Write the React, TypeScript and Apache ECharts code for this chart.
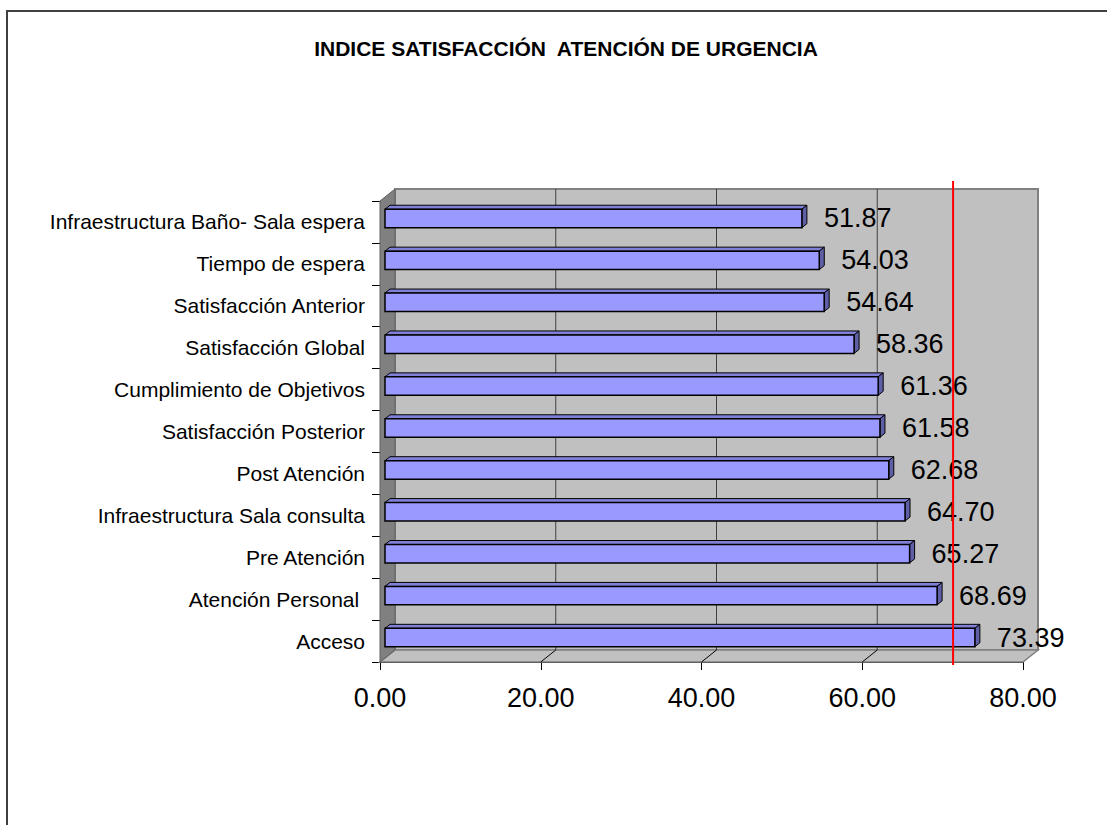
import React, { useEffect, useRef } from "react";
import * as echarts from "echarts";

const chartTitle = "INDICE SATISFACCIÓN  ATENCIÓN DE URGENCIA";
const categories = [
  "Acceso",
  "Atención Personal ",
  "Pre Atención",
  "Infraestructura Sala consulta",
  "Post Atención",
  "Satisfacción Posterior",
  "Cumplimiento de Objetivos",
  "Satisfacción Global",
  "Satisfacción Anterior",
  "Tiempo de espera",
  "Infraestructura Baño- Sala espera",
];
const values = [73.39, 68.69, 65.27, 64.7, 62.68, 61.58, 61.36, 58.36, 54.64, 54.03, 51.87];
const axisMin = 0;
const axisMax = 80;
const axisInterval = 20;
const referenceValue = 71.3;

const FONT = "'Liberation Sans', Arial, sans-serif";

export default function App() {
  const ref = useRef<HTMLDivElement>(null);
  useEffect(() => {
    const chart = echarts.init(ref.current!, null, { renderer: "svg" });
    const DX = 15;
    const DY = -12;
    const n = categories.length;
    const innerTicks: number[] = [];
    for (let t = axisMin + axisInterval; t < axisMax; t += axisInterval) innerTicks.push(t);

    const frame = (api: any) => {
      const x0 = api.coord([axisMin, 0])[0];
      const x1 = api.coord([axisMax, 0])[0];
      const band = api.size([0, 1])[1];
      const yB = api.coord([axisMin, 0])[1] + band / 2;
      const yT = api.coord([axisMin, n - 1])[1] - band / 2;
      return { x0, x1, yB, yT, band };
    };

    const option: any = {
      animation: false,
      backgroundColor: "#ffffff",
      title: {
        text: chartTitle,
        left: 561,
        textAlign: "center",
        top: 33,
        textStyle: { fontFamily: FONT, fontSize: 21, fontWeight: "bold", color: "#000" },
      },
      graphic: [
        {
          type: "rect",
          shape: { x: 7, y: 11, width: 1300, height: 1000 },
          style: { fill: "none", stroke: "#404040", lineWidth: 2 },
          silent: true,
        },
      ],
      grid: { left: 380, top: 201, width: 643, height: 461, containLabel: false },
      xAxis: {
        type: "value",
        min: axisMin,
        max: axisMax,
        interval: axisInterval,
        axisLine: { show: true, lineStyle: { color: "#000", width: 1 } },
        axisTick: { show: true, length: 8, lineStyle: { color: "#000" } },
        axisLabel: {
          fontFamily: FONT,
          fontSize: 27,
          color: "#000",
          margin: 22,
          formatter: (v: number) => v.toFixed(2),
        },
        splitLine: { show: false },
      },
      yAxis: {
        type: "category",
        data: categories,
        axisLine: { show: true, lineStyle: { color: "#000", width: 1 } },
        axisTick: { show: true, length: 8, lineStyle: { color: "#000" } },
        axisLabel: { fontFamily: FONT, fontSize: 21, color: "#000", margin: 15 },
        splitLine: { show: false },
      },
      series: [
        {
          type: "custom",
          name: "walls",
          z: 1,
          silent: true,
          data: [[0, 0]],
          renderItem: (_p: any, api: any) => {
            const { x0, x1, yB, yT } = frame(api);
            const children: any[] = [
              {
                type: "rect",
                shape: { x: x0 + DX, y: yT + DY, width: x1 - x0, height: yB - yT },
                style: { fill: "#C0C0C0", stroke: "#808080", lineWidth: 2 },
              },
              {
                type: "polygon",
                shape: { points: [[x0, yB], [x1, yB], [x1 + DX, yB + DY], [x0 + DX, yB + DY]] },
                style: { fill: "#C0C0C0", stroke: "#808080", lineWidth: 1.5 },
              },
              {
                type: "polygon",
                shape: { points: [[x0, yT], [x0 + DX, yT + DY], [x0 + DX, yB + DY], [x0, yB]] },
                style: { fill: "#808080", stroke: "#606060", lineWidth: 1 },
              },
            ];
            innerTicks.forEach((t) => {
              const xt = api.coord([t, 0])[0];
              children.push({
                type: "line",
                shape: { x1: xt + DX, y1: yT + DY, x2: xt + DX, y2: yB + DY },
                style: { stroke: "#404040", lineWidth: 1 },
              });
              children.push({
                type: "line",
                shape: { x1: xt, y1: yB, x2: xt + DX, y2: yB + DY },
                style: { stroke: "#000", lineWidth: 1 },
              });
            });
            return { type: "group", children };
          },
        },
        {
          type: "custom",
          name: "Índice",
          z: 3,
          data: values.map((v, i) => [v, i]),
          encode: { x: 0, y: 1 },
          renderItem: (params: any, api: any) => {
            const v = api.value(0);
            const idx = api.value(1);
            const s = api.coord([axisMin, idx]);
            const e = api.coord([v, idx]);
            const band = api.size([0, 1])[1];
            const h = band * 0.44;
            const bx = DX / 3;
            const by = DY / 3;
            const xa = s[0] + bx;
            const xb = e[0] + bx;
            const yc = s[1] + by + 0.5;
            const yt = yc - h / 2;
            const yb = yc + h / 2;
            return {
              type: "group",
              children: [
                {
                  type: "polygon",
                  shape: { points: [[xa, yt], [xb, yt], [xb + bx, yt + by], [xa + bx, yt + by]] },
                  style: { fill: "#8080D9", stroke: "#000", lineWidth: 1 },
                },
                {
                  type: "polygon",
                  shape: { points: [[xb, yt], [xb + bx, yt + by], [xb + bx, yb + by], [xb, yb]] },
                  style: { fill: "#5F5FA8", stroke: "#000", lineWidth: 1 },
                },
                {
                  type: "rect",
                  shape: { x: xa, y: yt, width: xb - xa, height: h },
                  style: { fill: "#9999FF", stroke: "#000", lineWidth: 1.5 },
                },
                {
                  type: "text",
                  style: {
                    x: xb + 22,
                    y: yc,
                    text: v.toFixed(2),
                    fontFamily: FONT,
                    fontSize: 27,
                    fill: "#000",
                    align: "left",
                    verticalAlign: "middle",
                  },
                },
              ],
            };
          },
        },
        {
          type: "custom",
          name: "referencia",
          z: 5,
          silent: true,
          data: [[referenceValue, 0]],
          renderItem: (_p: any, api: any) => {
            const { yB, yT } = frame(api);
            const xr = api.coord([api.value(0), 0])[0];
            return {
              type: "line",
              shape: { x1: xr, y1: yT + DY - 8, x2: xr, y2: yB + 3 },
              style: { stroke: "#FF0000", lineWidth: 2 },
            };
          },
        },
      ],
    };
    chart.setOption(option);
    return () => chart.dispose();
  }, []);
  return (
    <div
      ref={ref}
      style={{ position: "fixed", left: 0, top: 0, width: 1107, height: 825, background: "#fff" }}
    />
  );
}
